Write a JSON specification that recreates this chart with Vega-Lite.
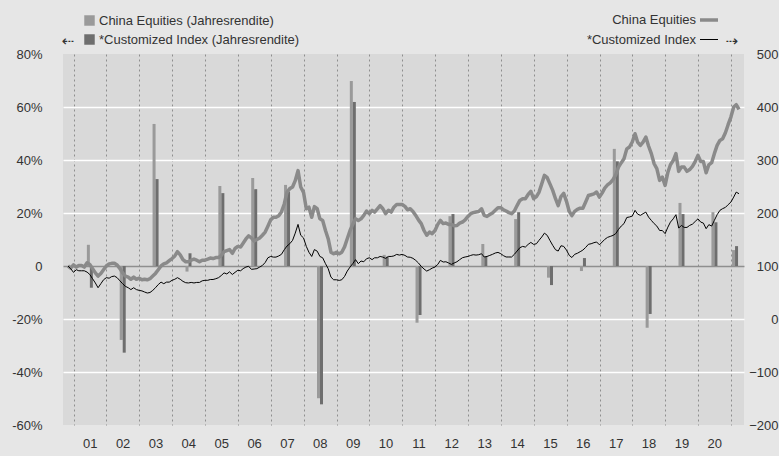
{
  "$schema": "https://vega.github.io/schema/vega-lite/v6.json",
  "width": 681,
  "height": 371,
  "autosize": {"type": "none"},
  "padding": {"left": 63, "top": 54, "right": 35, "bottom": 31},
  "background": "#e6e6e6",
  "config": {
    "view": {"fill": "#d9d9d9", "stroke": null},
    "font": "Liberation Sans",
    "axis": {"labelFont": "Liberation Sans", "labelFontSize": 13, "labelColor": "#333333", "titleFont": "DejaVu Sans", "titleFontSize": 15, "titleFontWeight": "normal", "titleColor": "#333333"},
    "legend": {"labelFont": "Liberation Sans", "labelFontSize": 13, "labelColor": "#333333", "padding": 0, "offset": 0, "labelLimit": 400}
  },
  "datasets": {
    "bars": [
      {"date": "2001-07-01", "ce": 8, "ci": -8.2},
      {"date": "2002-07-01", "ce": -27.9, "ci": -32.7},
      {"date": "2003-07-01", "ce": 53.6, "ci": 32.8},
      {"date": "2004-07-01", "ce": -2.1, "ci": 4.8},
      {"date": "2005-07-01", "ce": 30.2, "ci": 27.5},
      {"date": "2006-07-01", "ce": 33.2, "ci": 29},
      {"date": "2007-07-01", "ce": 30.6, "ci": 28},
      {"date": "2008-07-01", "ce": -49.9, "ci": -52.2},
      {"date": "2009-07-01", "ce": 69.8, "ci": 61.9},
      {"date": "2010-07-01", "ce": 4.2, "ci": 3.5},
      {"date": "2011-07-01", "ce": -21.4, "ci": -18.5},
      {"date": "2012-07-01", "ce": 18.8, "ci": 19.6},
      {"date": "2013-07-01", "ce": 8.3, "ci": 3.5},
      {"date": "2014-07-01", "ce": 17.7, "ci": 20.3},
      {"date": "2015-07-01", "ce": -4.4, "ci": -7.2},
      {"date": "2016-07-01", "ce": -1.9, "ci": 3},
      {"date": "2017-07-01", "ce": 44.2, "ci": 39.5},
      {"date": "2018-07-01", "ce": -23.3, "ci": -18.1},
      {"date": "2019-07-01", "ce": 23.8, "ci": 19.6},
      {"date": "2020-07-01", "ce": 20.3, "ci": 16.5},
      {"date": "2021-02-15", "ce": 6, "ci": 7.5}
    ],
    "lines": [
      {"date": "2000-10-31", "China Equities": 100, "*Customized Index": 100},
      {"date": "2000-11-30", "China Equities": 96, "*Customized Index": 95},
      {"date": "2000-12-31", "China Equities": 102, "*Customized Index": 88},
      {"date": "2001-01-31", "China Equities": 98, "*Customized Index": 93},
      {"date": "2001-02-28", "China Equities": 101, "*Customized Index": 91},
      {"date": "2001-03-31", "China Equities": 101, "*Customized Index": 91},
      {"date": "2001-04-30", "China Equities": 98, "*Customized Index": 91},
      {"date": "2001-05-31", "China Equities": 106, "*Customized Index": 88.5},
      {"date": "2001-06-30", "China Equities": 103, "*Customized Index": 84},
      {"date": "2001-07-31", "China Equities": 95, "*Customized Index": 76},
      {"date": "2001-08-31", "China Equities": 87, "*Customized Index": 68},
      {"date": "2001-09-30", "China Equities": 81, "*Customized Index": 59},
      {"date": "2001-10-31", "China Equities": 86, "*Customized Index": 66.6},
      {"date": "2001-11-30", "China Equities": 93, "*Customized Index": 74},
      {"date": "2001-12-31", "China Equities": 100, "*Customized Index": 78},
      {"date": "2002-01-31", "China Equities": 104, "*Customized Index": 77},
      {"date": "2002-02-28", "China Equities": 105, "*Customized Index": 80},
      {"date": "2002-03-31", "China Equities": 105, "*Customized Index": 81},
      {"date": "2002-04-30", "China Equities": 102, "*Customized Index": 78},
      {"date": "2002-05-31", "China Equities": 95, "*Customized Index": 72},
      {"date": "2002-06-30", "China Equities": 87, "*Customized Index": 66.6},
      {"date": "2002-07-31", "China Equities": 81, "*Customized Index": 61.6},
      {"date": "2002-08-31", "China Equities": 79, "*Customized Index": 59},
      {"date": "2002-09-30", "China Equities": 75, "*Customized Index": 55.5},
      {"date": "2002-10-31", "China Equities": 79, "*Customized Index": 59},
      {"date": "2002-11-30", "China Equities": 75, "*Customized Index": 55.5},
      {"date": "2002-12-31", "China Equities": 77, "*Customized Index": 54},
      {"date": "2003-01-31", "China Equities": 74, "*Customized Index": 53},
      {"date": "2003-02-28", "China Equities": 75, "*Customized Index": 51},
      {"date": "2003-03-31", "China Equities": 74, "*Customized Index": 49},
      {"date": "2003-04-30", "China Equities": 76, "*Customized Index": 50},
      {"date": "2003-05-31", "China Equities": 81, "*Customized Index": 54},
      {"date": "2003-06-30", "China Equities": 86, "*Customized Index": 59},
      {"date": "2003-07-31", "China Equities": 93, "*Customized Index": 65},
      {"date": "2003-08-31", "China Equities": 100, "*Customized Index": 69.6},
      {"date": "2003-09-30", "China Equities": 104, "*Customized Index": 66.6},
      {"date": "2003-10-31", "China Equities": 106, "*Customized Index": 69.6},
      {"date": "2003-11-30", "China Equities": 110, "*Customized Index": 69.6},
      {"date": "2003-12-31", "China Equities": 114, "*Customized Index": 73},
      {"date": "2004-01-31", "China Equities": 119, "*Customized Index": 75},
      {"date": "2004-02-29", "China Equities": 127, "*Customized Index": 78},
      {"date": "2004-03-31", "China Equities": 121, "*Customized Index": 75},
      {"date": "2004-04-30", "China Equities": 112, "*Customized Index": 71},
      {"date": "2004-05-31", "China Equities": 108, "*Customized Index": 68.5},
      {"date": "2004-06-30", "China Equities": 108, "*Customized Index": 68},
      {"date": "2004-07-31", "China Equities": 111, "*Customized Index": 69},
      {"date": "2004-08-31", "China Equities": 113, "*Customized Index": 68},
      {"date": "2004-09-30", "China Equities": 111, "*Customized Index": 69},
      {"date": "2004-10-31", "China Equities": 108, "*Customized Index": 69},
      {"date": "2004-11-30", "China Equities": 111, "*Customized Index": 72},
      {"date": "2004-12-31", "China Equities": 111, "*Customized Index": 73},
      {"date": "2005-01-31", "China Equities": 113, "*Customized Index": 73},
      {"date": "2005-02-28", "China Equities": 115, "*Customized Index": 74.5},
      {"date": "2005-03-31", "China Equities": 114, "*Customized Index": 74.5},
      {"date": "2005-04-30", "China Equities": 116, "*Customized Index": 76},
      {"date": "2005-05-31", "China Equities": 116, "*Customized Index": 78},
      {"date": "2005-06-30", "China Equities": 120, "*Customized Index": 82},
      {"date": "2005-07-31", "China Equities": 127, "*Customized Index": 87},
      {"date": "2005-08-31", "China Equities": 129, "*Customized Index": 85},
      {"date": "2005-09-30", "China Equities": 131, "*Customized Index": 89},
      {"date": "2005-10-31", "China Equities": 124, "*Customized Index": 84},
      {"date": "2005-11-30", "China Equities": 133, "*Customized Index": 88},
      {"date": "2005-12-31", "China Equities": 137, "*Customized Index": 92},
      {"date": "2006-01-31", "China Equities": 136, "*Customized Index": 91},
      {"date": "2006-02-28", "China Equities": 143, "*Customized Index": 95},
      {"date": "2006-03-31", "China Equities": 151, "*Customized Index": 98},
      {"date": "2006-04-30", "China Equities": 157, "*Customized Index": 99.5},
      {"date": "2006-05-31", "China Equities": 153, "*Customized Index": 93.7},
      {"date": "2006-06-30", "China Equities": 147, "*Customized Index": 94.3},
      {"date": "2006-07-31", "China Equities": 150, "*Customized Index": 95},
      {"date": "2006-08-31", "China Equities": 153, "*Customized Index": 98},
      {"date": "2006-09-30", "China Equities": 158, "*Customized Index": 101},
      {"date": "2006-10-31", "China Equities": 164, "*Customized Index": 106.6},
      {"date": "2006-11-30", "China Equities": 175, "*Customized Index": 115.5},
      {"date": "2006-12-31", "China Equities": 187, "*Customized Index": 118},
      {"date": "2007-01-31", "China Equities": 192, "*Customized Index": 116.8},
      {"date": "2007-02-28", "China Equities": 192, "*Customized Index": 116.8},
      {"date": "2007-03-31", "China Equities": 195, "*Customized Index": 119},
      {"date": "2007-04-30", "China Equities": 202, "*Customized Index": 122},
      {"date": "2007-05-31", "China Equities": 217, "*Customized Index": 130.7},
      {"date": "2007-06-30", "China Equities": 239, "*Customized Index": 137.6},
      {"date": "2007-07-31", "China Equities": 246, "*Customized Index": 142},
      {"date": "2007-08-31", "China Equities": 249, "*Customized Index": 148.3},
      {"date": "2007-09-30", "China Equities": 261, "*Customized Index": 162},
      {"date": "2007-10-31", "China Equities": 280, "*Customized Index": 178.5},
      {"date": "2007-11-30", "China Equities": 249, "*Customized Index": 158},
      {"date": "2007-12-31", "China Equities": 239, "*Customized Index": 153},
      {"date": "2008-01-31", "China Equities": 208, "*Customized Index": 137},
      {"date": "2008-02-29", "China Equities": 211, "*Customized Index": 126},
      {"date": "2008-03-31", "China Equities": 192, "*Customized Index": 118},
      {"date": "2008-04-30", "China Equities": 212, "*Customized Index": 131},
      {"date": "2008-05-31", "China Equities": 208, "*Customized Index": 128},
      {"date": "2008-06-30", "China Equities": 189, "*Customized Index": 118},
      {"date": "2008-07-31", "China Equities": 186, "*Customized Index": 115.5},
      {"date": "2008-08-31", "China Equities": 167, "*Customized Index": 104.4},
      {"date": "2008-09-30", "China Equities": 151.5, "*Customized Index": 95},
      {"date": "2008-10-31", "China Equities": 126, "*Customized Index": 79},
      {"date": "2008-11-30", "China Equities": 123, "*Customized Index": 74},
      {"date": "2008-12-31", "China Equities": 126, "*Customized Index": 74},
      {"date": "2009-01-31", "China Equities": 123, "*Customized Index": 72.8},
      {"date": "2009-02-28", "China Equities": 126, "*Customized Index": 74},
      {"date": "2009-03-31", "China Equities": 136, "*Customized Index": 80.3},
      {"date": "2009-04-30", "China Equities": 151.5, "*Customized Index": 90.4},
      {"date": "2009-05-31", "China Equities": 167, "*Customized Index": 98},
      {"date": "2009-06-30", "China Equities": 178.5, "*Customized Index": 104.4},
      {"date": "2009-07-31", "China Equities": 189, "*Customized Index": 112},
      {"date": "2009-08-31", "China Equities": 186, "*Customized Index": 104.4},
      {"date": "2009-09-30", "China Equities": 189, "*Customized Index": 109.4},
      {"date": "2009-10-31", "China Equities": 195.5, "*Customized Index": 108},
      {"date": "2009-11-30", "China Equities": 203.6, "*Customized Index": 113.7},
      {"date": "2009-12-31", "China Equities": 198.7, "*Customized Index": 115.5},
      {"date": "2010-01-31", "China Equities": 205, "*Customized Index": 112},
      {"date": "2010-02-28", "China Equities": 201.7, "*Customized Index": 115.5},
      {"date": "2010-03-31", "China Equities": 208, "*Customized Index": 115.5},
      {"date": "2010-04-30", "China Equities": 214, "*Customized Index": 118},
      {"date": "2010-05-31", "China Equities": 208, "*Customized Index": 116.8},
      {"date": "2010-06-30", "China Equities": 198.7, "*Customized Index": 114.3},
      {"date": "2010-07-31", "China Equities": 205, "*Customized Index": 118},
      {"date": "2010-08-31", "China Equities": 201.7, "*Customized Index": 118},
      {"date": "2010-09-30", "China Equities": 211, "*Customized Index": 119},
      {"date": "2010-10-31", "China Equities": 216, "*Customized Index": 121.9},
      {"date": "2010-11-30", "China Equities": 216, "*Customized Index": 120.6},
      {"date": "2010-12-31", "China Equities": 216, "*Customized Index": 121.9},
      {"date": "2011-01-31", "China Equities": 212.5, "*Customized Index": 120},
      {"date": "2011-02-28", "China Equities": 206, "*Customized Index": 117},
      {"date": "2011-03-31", "China Equities": 208, "*Customized Index": 116.5},
      {"date": "2011-04-30", "China Equities": 203, "*Customized Index": 114.5},
      {"date": "2011-05-31", "China Equities": 195.5, "*Customized Index": 110.6},
      {"date": "2011-06-30", "China Equities": 187, "*Customized Index": 105.7},
      {"date": "2011-07-31", "China Equities": 180, "*Customized Index": 99.3},
      {"date": "2011-08-31", "China Equities": 167, "*Customized Index": 94.3},
      {"date": "2011-09-30", "China Equities": 158, "*Customized Index": 90.4},
      {"date": "2011-10-31", "China Equities": 164, "*Customized Index": 93},
      {"date": "2011-11-30", "China Equities": 161, "*Customized Index": 96},
      {"date": "2011-12-31", "China Equities": 167, "*Customized Index": 98},
      {"date": "2012-01-31", "China Equities": 178.5, "*Customized Index": 103},
      {"date": "2012-02-29", "China Equities": 186, "*Customized Index": 110.6},
      {"date": "2012-03-31", "China Equities": 180, "*Customized Index": 107.5},
      {"date": "2012-04-30", "China Equities": 181, "*Customized Index": 108},
      {"date": "2012-05-31", "China Equities": 178.5, "*Customized Index": 105.7},
      {"date": "2012-06-30", "China Equities": 178.5, "*Customized Index": 103},
      {"date": "2012-07-31", "China Equities": 176, "*Customized Index": 105.7},
      {"date": "2012-08-31", "China Equities": 176.5, "*Customized Index": 108},
      {"date": "2012-09-30", "China Equities": 181, "*Customized Index": 111.9},
      {"date": "2012-10-31", "China Equities": 183, "*Customized Index": 115.6},
      {"date": "2012-11-30", "China Equities": 187, "*Customized Index": 117},
      {"date": "2012-12-31", "China Equities": 193.6, "*Customized Index": 118},
      {"date": "2013-01-31", "China Equities": 198.7, "*Customized Index": 120},
      {"date": "2013-02-28", "China Equities": 200.7, "*Customized Index": 121.3},
      {"date": "2013-03-31", "China Equities": 202, "*Customized Index": 120.6},
      {"date": "2013-04-30", "China Equities": 203, "*Customized Index": 121.3},
      {"date": "2013-05-31", "China Equities": 208, "*Customized Index": 123.2},
      {"date": "2013-06-30", "China Equities": 195.5, "*Customized Index": 117},
      {"date": "2013-07-31", "China Equities": 193.6, "*Customized Index": 118},
      {"date": "2013-08-31", "China Equities": 197, "*Customized Index": 120},
      {"date": "2013-09-30", "China Equities": 200, "*Customized Index": 122},
      {"date": "2013-10-31", "China Equities": 205, "*Customized Index": 124.5},
      {"date": "2013-11-30", "China Equities": 210, "*Customized Index": 125.7},
      {"date": "2013-12-31", "China Equities": 210, "*Customized Index": 123.2},
      {"date": "2014-01-31", "China Equities": 206, "*Customized Index": 119.4},
      {"date": "2014-02-28", "China Equities": 203.8, "*Customized Index": 117},
      {"date": "2014-03-31", "China Equities": 200.7, "*Customized Index": 117},
      {"date": "2014-04-30", "China Equities": 198.7, "*Customized Index": 117},
      {"date": "2014-05-31", "China Equities": 203.8, "*Customized Index": 122},
      {"date": "2014-06-30", "China Equities": 214, "*Customized Index": 128.2},
      {"date": "2014-07-31", "China Equities": 223.8, "*Customized Index": 134.5},
      {"date": "2014-08-31", "China Equities": 227, "*Customized Index": 137},
      {"date": "2014-09-30", "China Equities": 227, "*Customized Index": 135.7},
      {"date": "2014-10-31", "China Equities": 235, "*Customized Index": 140.8},
      {"date": "2014-11-30", "China Equities": 241, "*Customized Index": 144.5},
      {"date": "2014-12-31", "China Equities": 227, "*Customized Index": 140.8},
      {"date": "2015-01-31", "China Equities": 231, "*Customized Index": 142},
      {"date": "2015-02-28", "China Equities": 239, "*Customized Index": 148.3},
      {"date": "2015-03-31", "China Equities": 255, "*Customized Index": 154.6},
      {"date": "2015-04-30", "China Equities": 271, "*Customized Index": 162},
      {"date": "2015-05-31", "China Equities": 266.6, "*Customized Index": 157.8},
      {"date": "2015-06-30", "China Equities": 255, "*Customized Index": 148.3},
      {"date": "2015-07-31", "China Equities": 242.6, "*Customized Index": 139},
      {"date": "2015-08-31", "China Equities": 227, "*Customized Index": 130.7},
      {"date": "2015-09-30", "China Equities": 214, "*Customized Index": 128.2},
      {"date": "2015-10-31", "China Equities": 231, "*Customized Index": 138.2},
      {"date": "2015-11-30", "China Equities": 237, "*Customized Index": 137},
      {"date": "2015-12-31", "China Equities": 222, "*Customized Index": 130},
      {"date": "2016-01-31", "China Equities": 203, "*Customized Index": 120},
      {"date": "2016-02-29", "China Equities": 195, "*Customized Index": 116},
      {"date": "2016-03-31", "China Equities": 203, "*Customized Index": 122},
      {"date": "2016-04-30", "China Equities": 206.8, "*Customized Index": 124},
      {"date": "2016-05-31", "China Equities": 209, "*Customized Index": 127},
      {"date": "2016-06-30", "China Equities": 209, "*Customized Index": 130},
      {"date": "2016-07-31", "China Equities": 220.8, "*Customized Index": 135},
      {"date": "2016-08-31", "China Equities": 233, "*Customized Index": 141},
      {"date": "2016-09-30", "China Equities": 234.5, "*Customized Index": 142},
      {"date": "2016-10-31", "China Equities": 236, "*Customized Index": 144},
      {"date": "2016-11-30", "China Equities": 239.6, "*Customized Index": 145.3},
      {"date": "2016-12-31", "China Equities": 230, "*Customized Index": 140},
      {"date": "2017-01-31", "China Equities": 238, "*Customized Index": 145.3},
      {"date": "2017-02-28", "China Equities": 247, "*Customized Index": 150.2},
      {"date": "2017-03-31", "China Equities": 253, "*Customized Index": 154},
      {"date": "2017-04-30", "China Equities": 257, "*Customized Index": 155.8},
      {"date": "2017-05-31", "China Equities": 263, "*Customized Index": 157.7},
      {"date": "2017-06-30", "China Equities": 272, "*Customized Index": 161},
      {"date": "2017-07-31", "China Equities": 286.6, "*Customized Index": 169},
      {"date": "2017-08-31", "China Equities": 295, "*Customized Index": 175.5},
      {"date": "2017-09-30", "China Equities": 302.5, "*Customized Index": 180},
      {"date": "2017-10-31", "China Equities": 321, "*Customized Index": 191.5},
      {"date": "2017-11-30", "China Equities": 324.5, "*Customized Index": 192.5},
      {"date": "2017-12-31", "China Equities": 334, "*Customized Index": 194.2},
      {"date": "2018-01-31", "China Equities": 349.6, "*Customized Index": 205},
      {"date": "2018-02-28", "China Equities": 333.8, "*Customized Index": 198},
      {"date": "2018-03-31", "China Equities": 327.5, "*Customized Index": 195.5},
      {"date": "2018-04-30", "China Equities": 333.8, "*Customized Index": 198.7},
      {"date": "2018-05-31", "China Equities": 343.4, "*Customized Index": 201.7},
      {"date": "2018-06-30", "China Equities": 326.4, "*Customized Index": 192.3},
      {"date": "2018-07-31", "China Equities": 312, "*Customized Index": 186},
      {"date": "2018-08-31", "China Equities": 293, "*Customized Index": 180},
      {"date": "2018-09-30", "China Equities": 283.6, "*Customized Index": 175.3},
      {"date": "2018-10-31", "China Equities": 261.5, "*Customized Index": 167},
      {"date": "2018-11-30", "China Equities": 267.7, "*Customized Index": 167},
      {"date": "2018-12-31", "China Equities": 252, "*Customized Index": 161},
      {"date": "2019-01-31", "China Equities": 277, "*Customized Index": 173.4},
      {"date": "2019-02-28", "China Equities": 291, "*Customized Index": 182.8},
      {"date": "2019-03-31", "China Equities": 299, "*Customized Index": 189},
      {"date": "2019-04-30", "China Equities": 312, "*Customized Index": 196.8},
      {"date": "2019-05-31", "China Equities": 278.5, "*Customized Index": 171.5},
      {"date": "2019-06-30", "China Equities": 286.6, "*Customized Index": 176.6},
      {"date": "2019-07-31", "China Equities": 286.6, "*Customized Index": 172.8},
      {"date": "2019-08-31", "China Equities": 278.5, "*Customized Index": 172.8},
      {"date": "2019-09-30", "China Equities": 282, "*Customized Index": 176.6},
      {"date": "2019-10-31", "China Equities": 288, "*Customized Index": 179},
      {"date": "2019-11-30", "China Equities": 297, "*Customized Index": 184},
      {"date": "2019-12-31", "China Equities": 308.7, "*Customized Index": 189},
      {"date": "2020-01-31", "China Equities": 297, "*Customized Index": 182.8},
      {"date": "2020-02-29", "China Equities": 297, "*Customized Index": 181},
      {"date": "2020-03-31", "China Equities": 276, "*Customized Index": 170.4},
      {"date": "2020-04-30", "China Equities": 291, "*Customized Index": 178},
      {"date": "2020-05-31", "China Equities": 295, "*Customized Index": 175.3},
      {"date": "2020-06-30", "China Equities": 312, "*Customized Index": 186},
      {"date": "2020-07-31", "China Equities": 327.5, "*Customized Index": 196.8},
      {"date": "2020-08-31", "China Equities": 337, "*Customized Index": 205},
      {"date": "2020-09-30", "China Equities": 340, "*Customized Index": 208.2},
      {"date": "2020-10-31", "China Equities": 351.5, "*Customized Index": 210.6},
      {"date": "2020-11-30", "China Equities": 366.6, "*Customized Index": 215.7},
      {"date": "2020-12-31", "China Equities": 381, "*Customized Index": 220.6},
      {"date": "2021-01-31", "China Equities": 400, "*Customized Index": 230},
      {"date": "2021-02-28", "China Equities": 404.4, "*Customized Index": 239.4},
      {"date": "2021-03-31", "China Equities": 395.5, "*Customized Index": 236.4}
    ]
  },
  "encoding": {
    "x": {
      "field": "date", "type": "temporal",
      "scale": {"type": "utc", "domain": [{"year": 2000, "month": 10, "date": 31, "utc": true}, {"year": 2021, "month": 3, "date": 31, "utc": true}]},
      "axis": {
        "values": [
          {"year": 2001, "month": 1, "date": 1, "utc": true}, {"year": 2002, "month": 1, "date": 1, "utc": true},
          {"year": 2003, "month": 1, "date": 1, "utc": true}, {"year": 2004, "month": 1, "date": 1, "utc": true},
          {"year": 2005, "month": 1, "date": 1, "utc": true}, {"year": 2006, "month": 1, "date": 1, "utc": true},
          {"year": 2007, "month": 1, "date": 1, "utc": true}, {"year": 2008, "month": 1, "date": 1, "utc": true},
          {"year": 2009, "month": 1, "date": 1, "utc": true}, {"year": 2010, "month": 1, "date": 1, "utc": true},
          {"year": 2011, "month": 1, "date": 1, "utc": true}, {"year": 2012, "month": 1, "date": 1, "utc": true},
          {"year": 2013, "month": 1, "date": 1, "utc": true}, {"year": 2014, "month": 1, "date": 1, "utc": true},
          {"year": 2015, "month": 1, "date": 1, "utc": true}, {"year": 2016, "month": 1, "date": 1, "utc": true},
          {"year": 2017, "month": 1, "date": 1, "utc": true}, {"year": 2018, "month": 1, "date": 1, "utc": true},
          {"year": 2019, "month": 1, "date": 1, "utc": true}, {"year": 2020, "month": 1, "date": 1, "utc": true},
          {"year": 2021, "month": 1, "date": 1, "utc": true}
        ],
        "labelExpr": "utcFormat(datum.value, '%Y') == '2021' ? '' : utcFormat(datum.value, '%y')",
        "labelOffset": 16.2,
        "labelFlush": false,
        "labelOverlap": false,
        "labelPadding": 12,
        "ticks": false,
        "domain": false,
        "grid": true,
        "gridColor": "#8e8e8e",
        "gridDash": [2, 3],
        "gridWidth": 1,
        "title": null
      }
    }
  },
  "layer": [
    {
      "data": {"name": "bars"},
      "layer": [
        {
          "mark": {"type": "bar", "width": 3, "xOffset": -1.5},
          "encoding": {
            "y": {
              "field": "ce", "type": "quantitative",
              "scale": {"domain": [-60, 80], "nice": false},
              "axis": {
                "orient": "left",
                "values": [-60, -40, -20, 0, 20, 40, 60, 80],
                "labelExpr": "datum.value == 0 ? '0' : datum.value + '%'",
                "labelPadding": 21,
                "ticks": false,
                "domain": false,
                "grid": true,
                "gridColor": {"condition": {"test": "datum.value === 0", "value": "#8f8f8f"}, "value": "#ffffff"},
                "gridOpacity": {"condition": {"test": "datum.value === 80 || datum.value === -60", "value": 0}, "value": 1},
                "gridWidth": 1.3,
                "title": "⇠",
                "titleAngle": 0,
                "titleX": -2,
                "titleY": -14,
                "titleAlign": "left",
                "titleBaseline": "middle"
              }
            },
            "color": {
              "datum": "China Equities (Jahresrendite)",
              "scale": {"domain": ["China Equities (Jahresrendite)", "*Customized Index (Jahresrendite)"], "range": ["#9a9a9a", "#6e6e6e"]},
              "legend": {"orient": "none", "legendX": 20, "legendY": -40, "title": null, "symbolType": "square", "symbolSize": 110, "symbolStrokeWidth": 0, "labelOffset": 3, "rowPadding": 5, "direction": "vertical"}
            }
          }
        },
        {
          "mark": {"type": "bar", "width": 3, "xOffset": 1.5},
          "encoding": {
            "y": {
              "field": "ci", "type": "quantitative",
              "scale": {"domain": [-60, 80], "nice": false},
              "axis": {
                "orient": "left",
                "values": [-60, -40, -20, 0, 20, 40, 60, 80],
                "labelExpr": "datum.value == 0 ? '0' : datum.value + '%'",
                "labelPadding": 21,
                "ticks": false,
                "domain": false,
                "grid": true,
                "gridColor": {"condition": {"test": "datum.value === 0", "value": "#8f8f8f"}, "value": "#ffffff"},
                "gridOpacity": {"condition": {"test": "datum.value === 80 || datum.value === -60", "value": 0}, "value": 1},
                "gridWidth": 1.3,
                "title": "⇠",
                "titleAngle": 0,
                "titleX": -2,
                "titleY": -14,
                "titleAlign": "left",
                "titleBaseline": "middle"
              }
            },
            "color": {"datum": "*Customized Index (Jahresrendite)"}
          }
        }
      ]
    },
    {
      "data": {"name": "lines"},
      "transform": [{"fold": ["China Equities", "*Customized Index"], "as": ["series", "value"]}],
      "mark": {"type": "line", "strokeJoin": "round"},
      "encoding": {
        "y": {
          "field": "value", "type": "quantitative",
          "scale": {"domain": [-200, 500], "nice": false},
          "axis": {
            "orient": "right",
            "values": [-200, -100, 0, 100, 200, 300, 400, 500],
            "labelAlign": "right",
            "labelPadding": 34,
            "ticks": false,
            "domain": false,
            "grid": false,
            "title": "⇢",
            "titleAngle": 0,
            "titleX": -19,
            "titleY": -14,
            "titleAlign": "left",
            "titleBaseline": "middle"
          }
        },
        "stroke": {
          "field": "series", "type": "nominal",
          "scale": {"domain": ["China Equities", "*Customized Index"], "range": ["#8a8a8a", "#000000"]},
          "legend": {"orient": "none", "legendX": 635, "legendY": -45, "title": null, "symbolType": "stroke", "symbolSize": 324, "labelAlign": "right", "labelOffset": -24, "rowPadding": 3, "direction": "vertical"}
        },
        "strokeWidth": {
          "field": "series", "type": "nominal",
          "scale": {"domain": ["China Equities", "*Customized Index"], "range": [3.5, 1]},
          "legend": {"orient": "none", "legendX": 635, "legendY": -45, "title": null, "symbolType": "stroke", "symbolSize": 324, "labelAlign": "right", "labelOffset": -24, "rowPadding": 3, "direction": "vertical"}
        }
      }
    }
  ],
  "resolve": {"scale": {"y": "independent"}}
}
